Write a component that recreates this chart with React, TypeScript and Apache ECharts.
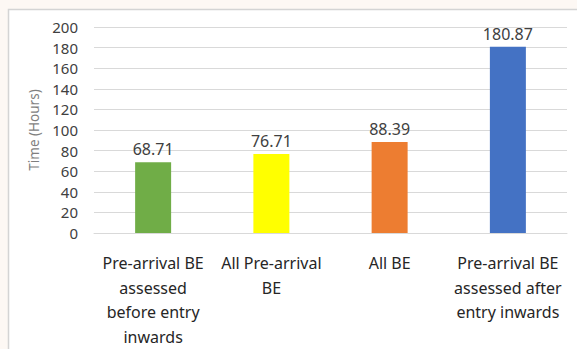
import React, { useEffect, useRef } from "react";
import * as echarts from "echarts";

// Mean clearance time by bill-of-entry group
const categories = [
  "Pre-arrival BE\nassessed\nbefore entry\ninwards",
  "All Pre-arrival\nBE",
  "All BE",
  "Pre-arrival BE\nassessed after\nentry inwards",
];
const hours = [68.71, 76.71, 88.39, 180.87];
const barColors = ["#70ad47", "#ffff00", "#ed7d31", "#4472c4"];
const yTicks = [0, 20, 40, 60, 80, 100, 120, 140, 160, 180, 200];

const FONT = "'Noto Sans', sans-serif";

export default function App() {
  const ref = useRef<HTMLDivElement>(null);

  useEffect(() => {
    if (!ref.current) return;
    const chart = echarts.init(ref.current, null, { renderer: "svg" });
    chart.setOption({
      animation: false,
      backgroundColor: "#fdf8f4",
      textStyle: { fontFamily: FONT },
      graphic: [
        {
          type: "rect",
          z: -10,
          silent: true,
          shape: { x: 8.5, y: 9.5, width: 600, height: 400 },
          style: { fill: "#ffffff", stroke: "#d4d4d4", lineWidth: 1.5 },
        },
      ],
      grid: { left: 94, right: 10, top: 27, bottom: 111 },
      xAxis: {
        type: "category",
        data: categories,
        axisLine: { show: true, lineStyle: { color: "#d9d9d9", width: 1 } },
        axisTick: { show: false },
        axisLabel: {
          interval: 0,
          margin: 18,
          fontSize: 16,
          lineHeight: 24.5,
          color: "#262626",
          fontFamily: FONT,
        },
      },
      yAxis: {
        type: "value",
        min: yTicks[0],
        max: yTicks[yTicks.length - 1],
        interval: 20,
        name: "Time (Hours)",
        nameLocation: "middle",
        nameRotate: 90,
        nameGap: 41,
        nameTextStyle: { fontSize: 13.5, color: "#7f7f7f", fontFamily: FONT },
        axisLine: { show: false },
        axisTick: { show: false },
        axisLabel: { fontSize: 15, color: "#404040", margin: 16, fontFamily: FONT },
        splitLine: { lineStyle: { color: "#d9d9d9", width: 1 } },
      },
      series: [
        {
          type: "bar",
          barWidth: 36,
          data: hours.map((v, i) => ({ value: v, itemStyle: { color: barColors[i] } })),
          label: {
            show: true,
            position: "top",
            distance: 5,
            fontSize: 16,
            color: "#404040",
            fontFamily: FONT,
            formatter: (p: any) => Number(p.value).toFixed(2),
          },
        },
      ],
    });
    return () => chart.dispose();
  }, []);

  return (
    <div
      ref={ref}
      style={{ position: "fixed", left: 0, top: 0, width: 577, height: 349 }}
    />
  );
}
